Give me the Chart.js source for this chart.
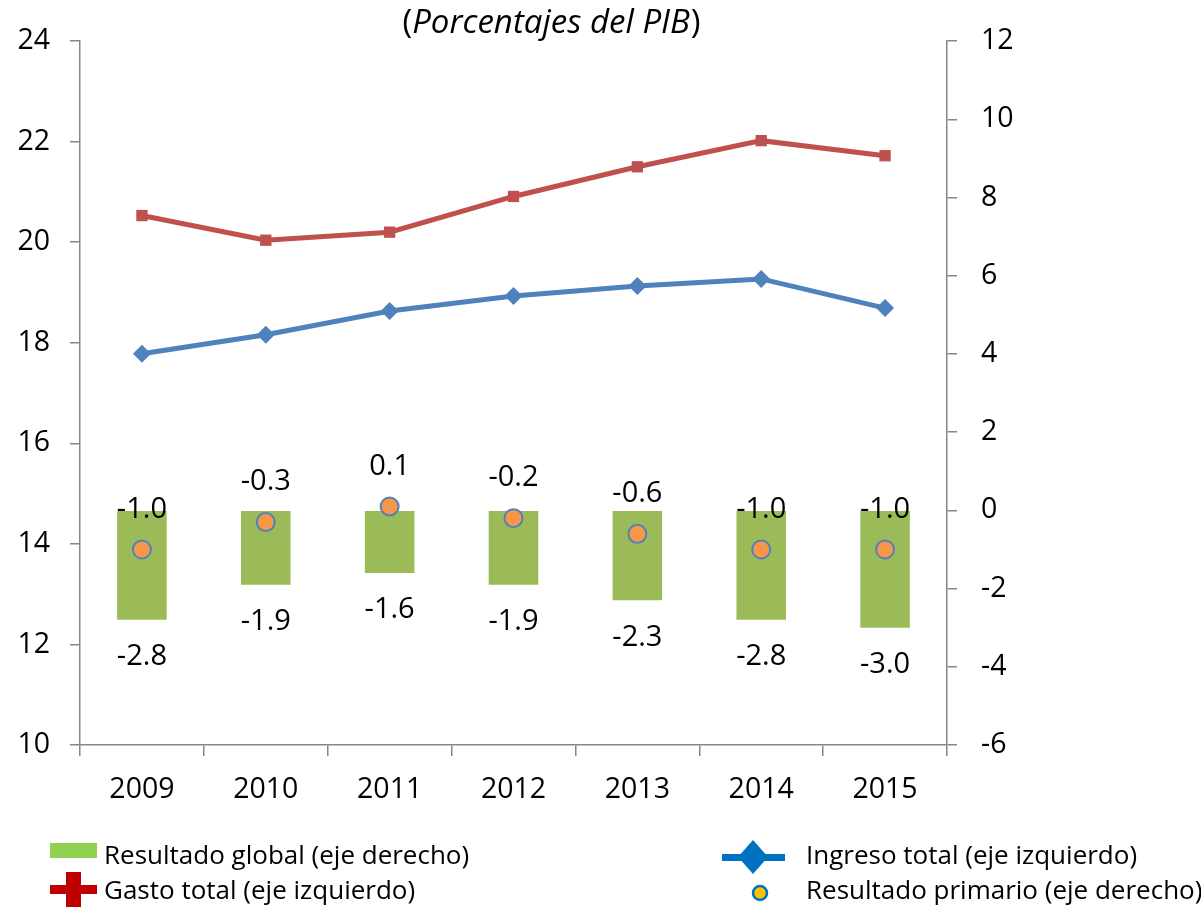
<!DOCTYPE html>
<html>
<head>
<meta charset="utf-8">
<script src="https://cdn.jsdelivr.net/npm/chart.js@4.4.1/dist/chart.umd.min.js"></script>
<style>
html,body{margin:0;padding:0;background:#fff;}
#wrap{position:relative;width:1201px;height:908px;}
</style>
</head>
<body>
<div id="wrap"><canvas id="c" width="1201" height="908"></canvas></div>
<script>
const years = ['2009','2010','2011','2012','2013','2014','2015'];
const gastoTotal = [20.53, 20.04, 20.20, 20.91, 21.50, 22.02, 21.72];
const ingresoTotal = [17.78, 18.16, 18.63, 18.93, 19.13, 19.27, 18.69];
const resultadoGlobal = [-2.8, -1.9, -1.6, -1.9, -2.3, -2.8, -3.0];
const resultadoPrimario = [-1.0, -0.3, 0.1, -0.2, -0.6, -1.0, -1.0];
const titleParts = ['(', 'Porcentajes del PIB', ')'];
const FONT = '"Open Sans", Lato, sans-serif';

const fmt = v => v.toFixed(1);

const labelPlugin = {
  id: 'labels',
  afterDatasetsDraw(chart) {
    const ctx = chart.ctx;
    ctx.save();
    ctx.fillStyle = '#000';
    ctx.font = '29px ' + FONT;
    ctx.textAlign = 'center';
    ctx.textBaseline = 'middle';
    chart.data.datasets.forEach((ds, i) => {
      const meta = chart.getDatasetMeta(i);
      if (ds.labelMode === 'below') {
        meta.data.forEach((el, j) => {
          ctx.fillText(fmt(ds.data[j]), el.x, el.y + 37);
        });
      } else if (ds.labelMode === 'above') {
        meta.data.forEach((el, j) => {
          ctx.fillText(fmt(ds.data[j]), el.x, el.y - 40);
        });
      }
    });
    ctx.restore();
  },
  afterDraw(chart) {
    const ctx = chart.ctx;
    ctx.save();
    // title
    ctx.fillStyle = '#000';
    ctx.textBaseline = 'middle';
    ctx.textAlign = 'left';
    const fN = '33px ' + FONT, fI = 'italic 33px ' + FONT;
    ctx.font = fN; const w0 = ctx.measureText(titleParts[0]).width;
    const w2 = ctx.measureText(titleParts[2]).width;
    ctx.font = fI; const w1 = ctx.measureText(titleParts[1]).width;
    let x = 551 - (w0 + w1 + w2) / 2;
    const ty = 24;
    ctx.font = fN; ctx.fillText(titleParts[0], x, ty); x += w0;
    ctx.font = fI; ctx.fillText(titleParts[1], x, ty); x += w1 + 1;
    ctx.font = fN; ctx.fillText(titleParts[2], x, ty);

    // legend
    const ds = chart.data.datasets;
    ctx.font = '26px ' + FONT;
    // Resultado global
    ctx.fillStyle = '#92D050';
    ctx.fillRect(50, 843, 47, 15);
    // Gasto total - red cross
    ctx.fillStyle = '#C00000';
    ctx.fillRect(50, 885, 47, 9);
    ctx.fillRect(66, 872, 15, 35);
    // Ingreso total - blue line with diamond
    ctx.fillStyle = '#0070C0';
    ctx.fillRect(722, 854, 63, 7);
    ctx.beginPath();
    ctx.moveTo(753, 840); ctx.lineTo(768, 857); ctx.lineTo(753, 874); ctx.lineTo(738, 857); ctx.closePath();
    ctx.fill();
    // Resultado primario
    ctx.beginPath();
    ctx.arc(760, 893, 7, 0, Math.PI * 2);
    ctx.fillStyle = '#FFC000'; ctx.fill();
    ctx.lineWidth = 2.5; ctx.strokeStyle = '#0070C0'; ctx.stroke();

    ctx.fillStyle = '#000';
    ctx.textAlign = 'left';
    ctx.fillText(ds[0].label, 104, 857);
    ctx.fillText(ds[1].label, 104, 892);
    ctx.fillText(ds[2].label, 806, 857);
    ctx.fillText(ds[3].label, 806, 892);
    ctx.restore();
  }
};

const axisColor = '#868686';

new Chart(document.getElementById('c'), {
  type: 'bar',
  data: {
    labels: years,
    datasets: [
      {
        type: 'bar', label: 'Resultado global (eje derecho)', data: resultadoGlobal,
        yAxisID: 'y1', backgroundColor: '#9BBB59', barPercentage: 0.8, categoryPercentage: 0.5,
        order: 4, labelMode: 'below'
      },
      {
        type: 'line', label: 'Gasto total (eje izquierdo)', data: gastoTotal,
        yAxisID: 'y', borderColor: '#C0504D', backgroundColor: '#C0504D', borderWidth: 5,
        pointStyle: 'rect', pointRadius: 8, pointBorderWidth: 0, tension: 0, order: 1
      },
      {
        type: 'line', label: 'Ingreso total (eje izquierdo)', data: ingresoTotal,
        yAxisID: 'y', borderColor: '#4F81BD', backgroundColor: '#4F81BD', borderWidth: 5,
        pointStyle: 'rectRot', pointRadius: 9, pointBorderWidth: 0, tension: 0, order: 2
      },
      {
        type: 'line', label: 'Resultado primario (eje derecho)', data: resultadoPrimario,
        yAxisID: 'y1', showLine: false, backgroundColor: '#F79646', borderColor: '#4F81BD',
        pointRadius: 9, pointBorderWidth: 2, order: 3, labelMode: 'above'
      }
    ]
  },
  options: {
    responsive: false,
    animation: false,
    events: [],
    layout: { padding: { top: 38, left: 0, right: 0, bottom: 0 } },
    plugins: { legend: { display: false }, tooltip: { enabled: false }, title: { display: false } },
    scales: {
      x: {
        offset: true,
        grid: { offset: true, drawOnChartArea: false, drawTicks: true, tickLength: 11, color: axisColor, lineWidth: 1.5 },
        border: { display: true, color: axisColor, width: 1.5 },
        ticks: { color: '#000', font: { family: FONT, size: 28.5 }, padding: 17, maxRotation: 0 },
        afterFit: s => { s.height = 163; }
      },
      y: {
        position: 'left', min: 10, max: 24,
        ticks: { stepSize: 2, color: '#000', font: { family: FONT, size: 28.5 }, padding: 20 },
        grid: { drawOnChartArea: false, drawTicks: true, tickLength: 10, color: axisColor, lineWidth: 1.5 },
        border: { display: true, color: axisColor, width: 1.5 },
        afterFit: s => { s.width = 80; }
      },
      y1: {
        position: 'right', min: -6, max: 12,
        ticks: { stepSize: 2, color: '#000', font: { family: FONT, size: 28.5 }, padding: 24 },
        grid: { drawOnChartArea: false, drawTicks: true, tickLength: 10, color: axisColor, lineWidth: 1.5 },
        border: { display: true, color: axisColor, width: 1.5 },
        afterFit: s => { s.width = 254; }
      }
    }
  },
  plugins: [labelPlugin]
});
</script>
</body>
</html>
